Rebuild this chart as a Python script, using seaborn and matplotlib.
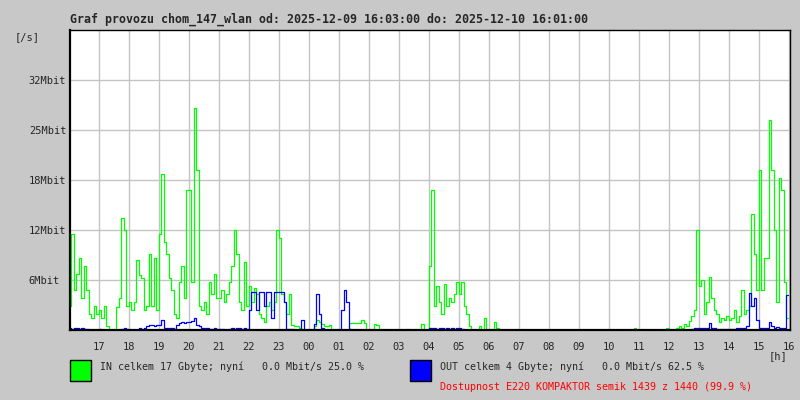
import numpy as np
import seaborn as sns
import matplotlib.pyplot as plt

# 5-minute samples starting 16:03, one row per hour (Mbit/s)
traffic_in = [
    [3, 12, 5, 7, 9, 4, 8, 5, 2, 1.5, 3, 2],                  # 16
    [2.5, 1.5, 3, 0.5, 0, 0, 0, 2.9, 4, 14, 12.5, 3],         # 17
    [3.5, 2.5, 3.5, 8.8, 6.9, 6.5, 2.5, 3, 9.5, 3, 9, 2.5],   # 18
    [12, 19.5, 11, 9.5, 6.5, 5, 2, 1.5, 6, 8, 4, 17.5],       # 19
    [17.5, 6, 27.7, 20, 3, 2.5, 3.5, 2, 6, 4.5, 7, 4],        # 20
    [4, 5, 3.5, 4.5, 6, 8, 12.5, 9.5, 3.5, 2.5, 8.5, 3],      # 21
    [5.5, 3.5, 5.3, 4.5, 2, 1.5, 1, 3, 3.5, 2.5, 3.5, 12.5],  # 22
    [11.5, 4.5, 3.5, 2, 4.5, 0.6, 0.5, 0.5, 0.2, 0, 0, 0],    # 23
    [0, 0, 0.5, 1.2, 1, 0.8, 0.5, 0.5, 0.6, 0, 0, 0],         # 00
    [0, 0, 0, 0, 0.9, 0.9, 0.9, 0.9, 0.9, 1.2, 0.9, 0],       # 01
    [0, 0, 0.8, 0.6, 0, 0, 0, 0, 0, 0, 0, 0],                 # 02
    [0, 0, 0, 0.1, 0, 0, 0, 0, 0, 0.7, 0, 0],                 # 03
    [8, 17.5, 3, 5.5, 3.5, 2, 5.8, 3, 4, 3.5, 4.5, 6],        # 04
    [4.5, 6, 3, 2, 0.5, 0, 0, 0, 0.5, 0, 1.5, 0],             # 05
    [0, 0, 1, 0.3, 0, 0, 0, 0, 0, 0, 0, 0],                   # 06
    [0, 0, 0, 0, 0, 0, 0, 0, 0, 0, 0, 0],                     # 07
    [0, 0, 0, 0, 0, 0, 0, 0, 0, 0, 0, 0],                     # 08
    [0, 0, 0, 0, 0, 0, 0, 0, 0, 0, 0, 0],                     # 09
    [0, 0, 0, 0, 0, 0, 0, 0, 0, 0, 0.3, 0],                   # 10
    [0, 0, 0, 0, 0, 0, 0, 0, 0, 0, 0, 0.2],                   # 11
    [0, 0, 0, 0.3, 0.5, 0.3, 0.8, 0.5, 1.1, 1.8, 2.5, 12.5],  # 12
    [5.5, 6.3, 2, 3.5, 6.6, 4, 2.5, 2, 1, 1.5, 1.2, 1.8],     # 13
    [1.2, 1.5, 2.5, 1, 1.8, 5, 2, 2.5, 3, 14.5, 9.5, 5],      # 14
    [20, 5, 9, 9, 26.2, 20, 12.5, 3.5, 19, 17.5, 6, 1.5],     # 15
]

traffic_out = [
    [0.2, 0.1, 0.2, 0.3, 0.1, 0.2, 0.1, 0.1, 0, 0, 0, 0],
    [0.1, 0, 0, 0, 0, 0, 0, 0, 0, 0.1, 0.2, 0.1],
    [0, 0, 0, 0, 0.2, 0.1, 0.3, 0.5, 0.6, 0.6, 0.5, 0.6],
    [0.6, 1.2, 0.3, 0.2, 0.2, 0.2, 0.1, 0.6, 0.9, 1.0, 0.9, 1.0],
    [1.0, 1.1, 1.5, 0.6, 0.5, 0.3, 0.3, 0.2, 0.1, 0.1, 0.2, 0.1],
    [0.1, 0.1, 0, 0, 0.1, 0.2, 0.1, 0.3, 0.2, 0.1, 0.2, 0.1],
    [2.5, 4.8, 4.7, 2.5, 4.7, 4.8, 3.0, 4.7, 4.8, 1.5, 4.7, 4.8],
    [4.7, 4.8, 3.5, 0.1, 0.1, 0.1, 0, 0, 0, 1.2, 0, 0],
    [0, 0, 0.8, 4.5, 2.0, 0.2, 0, 0, 0, 0, 0, 0],
    [0, 2.5, 5.0, 3.5, 0.1, 0, 0, 0, 0, 0, 0, 0],
    [0, 0, 0, 0, 0, 0, 0, 0, 0, 0, 0, 0],
    [0, 0, 0, 0, 0, 0, 0, 0, 0, 0, 0, 0],
    [0.2, 0.3, 0.2, 0.1, 0.3, 0.2, 0.1, 0.2, 0.1, 0.2, 0.1, 0.2],
    [0.2, 0.1, 0, 0, 0, 0, 0, 0, 0, 0, 0, 0],
    [0, 0, 0, 0, 0, 0, 0, 0, 0, 0, 0, 0],
    [0, 0, 0, 0, 0, 0, 0, 0, 0, 0, 0, 0],
    [0, 0, 0, 0, 0, 0, 0, 0, 0, 0, 0, 0],
    [0, 0, 0, 0, 0, 0, 0, 0, 0, 0, 0, 0],
    [0, 0, 0, 0, 0, 0, 0, 0, 0, 0, 0, 0],
    [0, 0, 0, 0, 0, 0, 0, 0, 0, 0, 0, 0],
    [0, 0, 0, 0, 0, 0, 0, 0, 0, 0.1, 0.2, 0.3],
    [0.2, 0.3, 0.2, 0.3, 0.9, 0.3, 0.2, 0.1, 0.1, 0.1, 0.1, 0.1],
    [0.1, 0.1, 0.1, 0.2, 0.3, 0.2, 0.3, 0.5, 4.6, 3.0, 4.0, 1.2],
    [0.3, 0.2, 0.3, 0.3, 1.0, 0.5, 0.3, 0.4, 0.2, 0.3, 0.2, 4.4],
]

y_ticks = [6.25, 12.5, 18.75, 25, 31.25]
y_labels = ["6Mbit", "12Mbit", "18Mbit", "25Mbit", "32Mbit"]
x_hours = list(range(17, 41))
x_labels = ["%02d" % (h % 24) for h in x_hours]

title = "Graf provozu chom_147_wlan od: 2025-12-09 16:03:00 do: 2025-12-10 16:01:00"
in_text = "IN celkem 17 Gbyte; nyní   0.0 Mbit/s 25.0 %"
out_text = "OUT celkem 4 Gbyte; nyní   0.0 Mbit/s 62.5 %"
avail_text = "Dostupnost E220 KOMPAKTOR semik 1439 z 1440 (99.9 %)"

vin = np.array(traffic_in, dtype=float).ravel()
vout = np.array(traffic_out, dtype=float).ravel()
t = 16.05 + np.arange(len(vin)) * 5 / 60

sns.set_style("white")
plt.rcParams['font.family'] = ['DejaVu Sans Mono']
bg = "#c8c8c8"
fs = 7.5
fs_leg = 7.2

fig = plt.figure(figsize=(8, 4), dpi=100, facecolor=bg)
ax = fig.add_axes([70 / 800, 70 / 400, 720 / 800, 300 / 400])
ax.set_facecolor("white")
ax.set_axisbelow(True)

sns.lineplot(x=t, y=vin, color="#00ff00", lw=0.9, drawstyle="steps-mid", ax=ax)
sns.lineplot(x=t, y=vout, color="#0000ff", lw=0.9, drawstyle="steps-mid", ax=ax)

ax.set_xlim(16.05, 40.05)
ax.set_ylim(0, 37.5)
ax.set_xticks(x_hours)
ax.set_xticklabels(x_labels, fontsize=fs)
ax.set_yticks(y_ticks)
ax.set_yticklabels(y_labels, fontsize=fs)
for lab in ax.get_yticklabels():
    lab.set_horizontalalignment("left")
ax.tick_params(axis="x", length=0, pad=9)
ax.tick_params(axis="y", length=2.2, width=0.8, color="black", pad=27.5)
ax.grid(True, color="#c4c4c4", lw=1)
for s in ax.spines.values():
    s.set_color("black")
    s.set_linewidth(1)
ax.spines["left"].set_linewidth(1.6)
ax.spines["bottom"].set_linewidth(1.6)

fig.text(70 / 800, 1 - 19 / 400, title, fontsize=8.4, fontweight="bold", va="center", ha="left")
fig.text(15 / 800, 1 - 37 / 400, "[/s]", fontsize=fs, va="center", ha="left")
fig.text(787 / 800, 1 - 356 / 400, "[h]", fontsize=fs, va="center", ha="right")

fig.patches.append(plt.Rectangle((70 / 800, 1 - 381 / 400), 21 / 800, 21 / 400,
                                 transform=fig.transFigure, facecolor="#00ff00",
                                 edgecolor="black", lw=1))
fig.patches.append(plt.Rectangle((410 / 800, 1 - 381 / 400), 21 / 800, 21 / 400,
                                 transform=fig.transFigure, facecolor="#0000ff",
                                 edgecolor="black", lw=1))
fig.text(100 / 800, 1 - 367 / 400, in_text, fontsize=fs_leg, va="center", ha="left")
fig.text(440 / 800, 1 - 367 / 400, out_text, fontsize=fs_leg, va="center", ha="left")
fig.text(440 / 800, 1 - 387 / 400, avail_text, fontsize=fs_leg, va="center", ha="left", color="#ff0000")

fig.savefig("out.png", dpi=100, facecolor=bg)
